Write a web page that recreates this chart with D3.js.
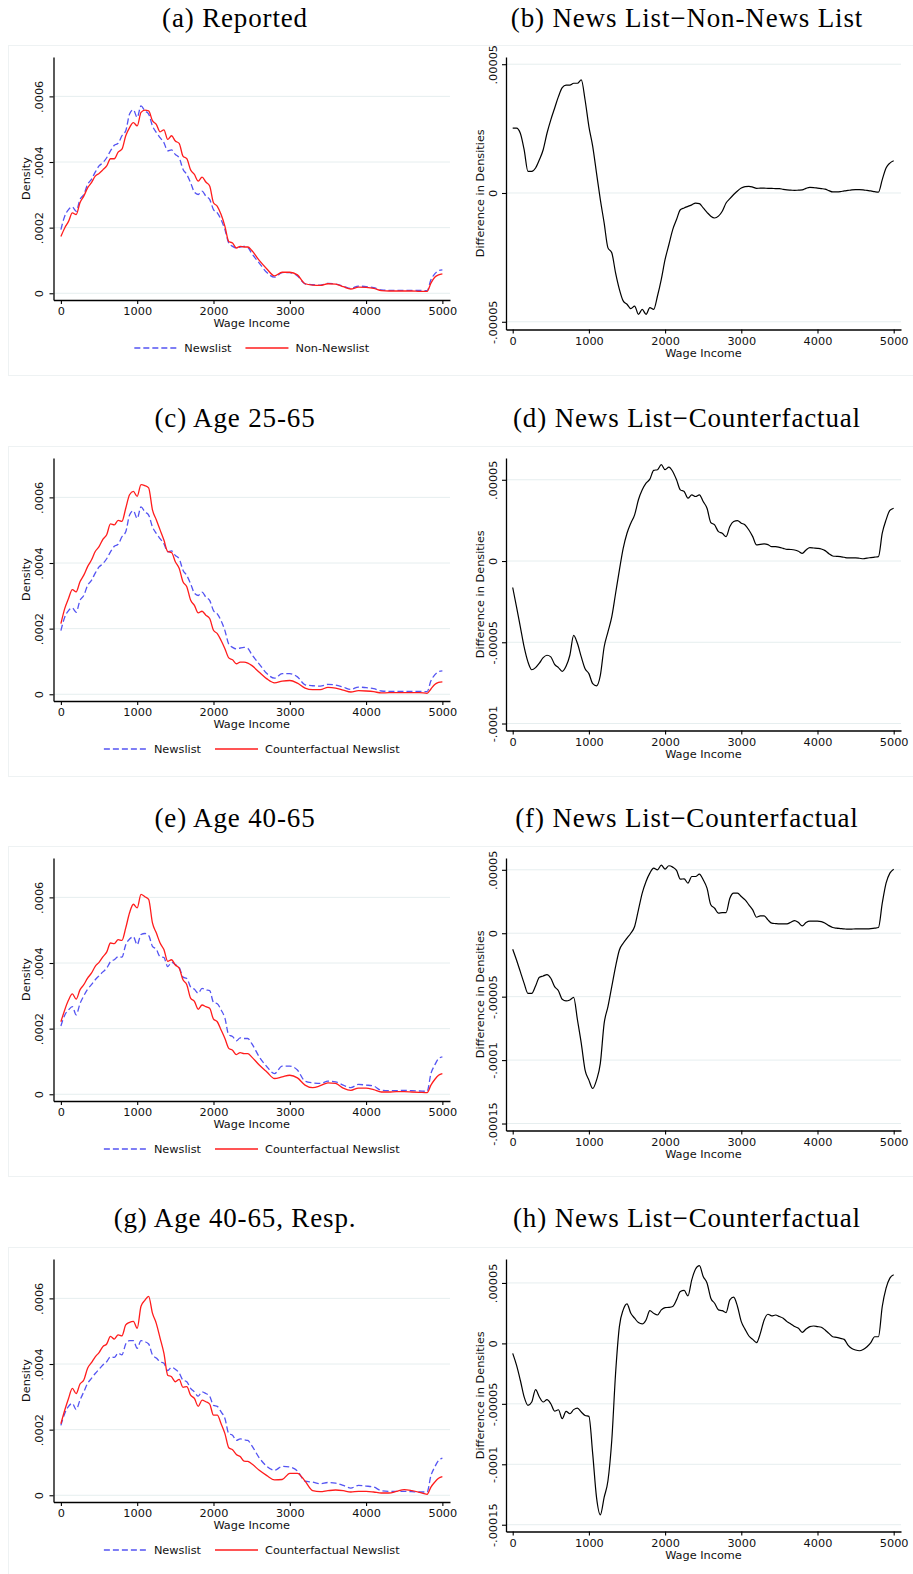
<!DOCTYPE html>
<html>
<head>
<meta charset="utf-8">
<script src="https://cdn.jsdelivr.net/npm/d3@7"></script>
<style>
  body { margin: 0; background: #fff; }
  svg { display: block; }
</style>
</head>
<body>
<svg id="fig" width="913" height="1574"></svg>
<script>
// ---------------------------------------------------------------------------
// Data. Densities and density differences are listed in millionths (x 1e-6).
// ---------------------------------------------------------------------------
const UNIT = 1e-6;

// Wage-income grid for the density panels (left column)
const densityIncome = d3.range(0, 2501, 50).concat(d3.range(2600, 4801, 100), [4850, 4900, 4950, 5000]);
// Wage-income grid for the difference panels (right column)
const diffIncome = d3.range(0, 5001, 50);

// (a) / (c): News List density
const newslistAll = [
  194, 235, 255, 263, 250, 286, 301, 332, 347, 369, 388, 398, 413, 434, 451, 457, 480, 495, 546, 559,
  536, 571, 556, 546, 510, 490, 474, 459, 434, 437, 423, 413, 378, 362, 337, 308, 301, 311, 296, 286,
  255, 245, 224, 194, 153, 143, 138, 141, 143, 140, 122,
  92, 63, 49, 63, 63, 53, 29, 26, 25, 30, 28, 22, 15, 22, 20, 17, 10, 9, 9, 9, 9, 9, 8,
  41, 59, 69, 71
];
// (a): Non-News List density
const nonNewslist = [
  173, 199, 219, 245, 240, 276, 296, 321, 337, 357, 365, 376, 388, 410, 410, 430, 439, 480, 505, 520,
  510, 551, 558, 556, 526, 515, 492, 498, 469, 480, 464, 457, 418, 410, 376, 362, 342, 354, 339, 327,
  276, 265, 240, 204, 158, 153, 138, 143, 141, 141, 131,
  100, 74, 53, 64, 64, 56, 29, 25, 24, 29, 28, 20, 13, 19, 18, 15, 8, 7, 7, 7, 7, 6, 6,
  31, 49, 56, 59
];
// (c): counterfactual News List, age 25-65
const counterfactual2565 = [
  215, 261, 292, 319, 312, 343, 363, 389, 409, 435, 450, 472, 486, 519, 516, 530, 527, 567, 608, 618,
  603, 639, 636, 629, 562, 532, 501, 470, 435, 432, 404, 384, 343, 328, 287, 271, 248, 253, 241, 231,
  195, 185, 164, 139, 111, 105, 93, 98, 98, 95, 88,
  67, 47, 35, 40, 42, 34, 19, 14, 14, 21, 19, 13, 7, 11, 10, 8, 4, 5, 5, 5, 5, 5, 3,
  16, 30, 36, 38
];
// (e): News List, age 40-65
const newslist4065 = [
  208, 241, 257, 267, 242, 276, 300, 320, 334, 349, 361, 373, 384, 404, 410, 419, 418, 456, 473, 480,
  456, 487, 490, 484, 451, 442, 419, 417, 389, 402, 395, 387, 357, 353, 327, 320, 308, 323, 318, 316,
  280, 276, 257, 232, 181, 176, 163, 172, 170, 170, 155,
  114, 84, 63, 86, 86, 74, 40, 35, 33, 40, 38, 28, 20, 30, 28, 25, 12, 11, 11, 12, 11, 10, 9,
  63, 89, 109, 114
];
// (e): counterfactual News List, age 40-65
const counterfactual4065 = [
  221, 257, 287, 306, 290, 318, 334, 354, 369, 390, 402, 419, 433, 461, 459, 471, 469, 507, 553, 579,
  568, 609, 602, 594, 522, 492, 461, 441, 405, 410, 394, 384, 349, 334, 293, 283, 259, 272, 267, 262,
  229, 221, 196, 170, 140, 134, 121, 127, 124, 124, 114,
  89, 68, 48, 53, 58, 50, 28, 20, 26, 35, 33, 19, 12, 19, 19, 14, 7, 7, 8, 8, 7, 6, 5,
  28, 45, 58, 63
];
// (g): News List, age 40-65, respondents
const newslistResp = [
  213, 249, 271, 280, 261, 290, 315, 341, 356, 371, 384, 397, 407, 422, 420, 433, 428, 461, 471, 471,
  448, 471, 468, 461, 428, 418, 407, 402, 380, 390, 384, 373, 351, 346, 326, 315, 302, 315, 310, 302,
  274, 271, 254, 234, 188, 183, 167, 172, 169, 167, 152,
  114, 88, 76, 88, 86, 74, 43, 40, 35, 39, 37, 30, 22, 30, 28, 25, 14, 12, 12, 12, 11, 10, 10,
  60, 86, 106, 113
];
// (g): counterfactual News List, age 40-65, respondents
const counterfactualResp = [
  218, 259, 295, 326, 310, 339, 351, 387, 404, 422, 435, 453, 461, 484, 476, 489, 486, 519, 527, 530,
  509, 576, 594, 606, 555, 524, 479, 433, 366, 361, 346, 353, 329, 331, 305, 295, 271, 290, 285, 278,
  244, 244, 218, 188, 145, 139, 124, 118, 104, 103, 96,
  76, 60, 47, 48, 67, 67, 43, 14, 11, 14, 16, 14, 10, 12, 12, 10, 7, 7, 12, 17, 14, 9, 3,
  25, 40, 52, 57
];

// (b): News List minus Non-News List
const diffReported = [
  25.2, 25.2, 23.2, 16.8, 8.4, 8.4, 9.7, 12.9, 16.8, 23.2, 28.4, 32.9, 37.4, 40.9, 41.9, 41.9, 42.6, 42.6, 43.9, 36.1,
  25.8, 18.1, 7.7, -2.6, -11.6, -21.3, -23.2, -31.0, -37.4, -41.9, -43.2, -44.9, -43.9, -47.1, -45.2, -47.1, -44.5, -45.2, -40.0, -33.5,
  -25.8, -20.0, -14.2, -10.3, -6.5, -5.8, -5.2, -4.6, -3.9, -4.1, -5.8, -7.5, -9.0, -9.7, -9.0, -7.1, -3.9, -2.2, -0.6, 0.8,
  1.9, 2.5, 2.6, 2.3, 1.8, 1.9, 1.9, 1.8, 1.8, 1.7, 1.7, 1.4, 1.2, 1.1, 1.0, 1.1, 1.2, 1.8, 2.2, 2.1,
  1.9, 1.7, 1.5, 0.9, 0.4, 0.4, 0.5, 0.8, 1.0, 1.2, 1.3, 1.3, 1.2, 1.0, 0.8, 0.5, 0.3, 5.2, 9.7, 11.6,
  12.5
];
// (d): News List minus counterfactual, age 25-65
const diff2565 = [
  -16.3, -28.2, -40.5, -52.9, -62.1, -66.9, -65.6, -62.8, -59.5, -58.0, -59.0, -63.6, -65.6, -67.9, -64.8, -58.0, -45.7, -50.8, -59.0, -66.3,
  -69.3, -75.5, -76.8, -70.4, -52.9, -43.6, -34.4, -20.0, -5.6, 7.8, 17.1, 23.3, 28.4, 37.7, 43.8, 47.9, 50.4, 55.8, 56.2, 59.3,
  56.2, 57.8, 55.1, 50.0, 43.8, 42.8, 38.7, 40.7, 39.7, 40.7, 36.6, 32.5, 23.7, 22.2, 18.1, 17.1, 15.0, 21.2, 24.3, 24.9,
  23.3, 22.2, 19.1, 15.0, 9.9, 10.3, 10.5, 10.1, 8.8, 8.8, 8.4, 7.8, 7.2, 7.1, 6.8, 6.0, 4.7, 6.8, 8.2, 8.0,
  7.8, 7.4, 6.4, 4.5, 3.1, 2.9, 2.7, 2.3, 1.9, 1.9, 1.9, 1.7, 1.4, 1.8, 2.1, 2.4, 2.7, 17.1, 25.3, 31.1,
  32.5
];
// (f): News List minus counterfactual, age 40-65
const diff4065 = [
  -12.6, -21.1, -30.3, -39.5, -47.4, -47.4, -41.6, -34.7, -33.7, -32.6, -35.5, -42.1, -45.3, -52.1, -53.4, -52.6, -50.5, -68.4, -86.8, -107.9,
  -115.8, -122.4, -115.8, -102.6, -71.1, -57.9, -42.1, -26.3, -13.2, -7.9, -3.9, 0.0, 5.3, 18.4, 31.6, 40.8, 47.4, 51.3, 50.0, 53.7,
  50.5, 53.2, 52.1, 49.5, 42.6, 42.9, 39.5, 44.7, 44.7, 46.6, 42.1, 35.5, 22.4, 19.7, 15.8, 16.3, 16.3, 27.6, 31.6, 31.6,
  28.9, 26.3, 22.4, 18.4, 12.6, 13.7, 13.7, 10.5, 7.9, 7.6, 7.4, 7.4, 7.4, 8.7, 10.0, 8.4, 5.8, 8.4, 9.5, 9.5,
  9.5, 9.2, 7.9, 6.0, 4.5, 4.0, 3.7, 3.4, 3.2, 3.3, 3.4, 3.4, 3.4, 3.5, 3.7, 4.0, 4.5, 23.7, 39.5, 47.4,
  50.5
];
// (h): News List minus counterfactual, age 40-65, respondents
const diffResp = [
  -8.3, -18.0, -30.5, -44.3, -51.2, -48.5, -38.2, -44.3, -48.5, -46.5, -49.9, -56.0, -54.9, -62.3, -56.2, -58.2, -54.8, -53.5, -56.8, -59.6,
  -60.4, -91.4, -127.4, -141.8, -127.4, -113.6, -80.3, -24.9, 13.9, 27.7, 32.7, 24.9, 20.8, 17.2, 16.1, 19.4, 27.1, 24.9, 23.5, 27.7,
  29.6, 29.8, 30.5, 36.0, 42.9, 43.8, 39.3, 52.6, 61.5, 64.3, 55.4, 49.9, 37.4, 33.2, 27.7, 27.1, 25.5, 36.0, 38.2, 30.5,
  18.0, 11.6, 6.1, 3.3, 0.6, 8.3, 19.4, 24.1, 22.7, 23.5, 22.2, 20.8, 18.0, 16.1, 13.9, 12.5, 9.1, 11.9, 13.9, 14.4,
  13.9, 13.3, 11.1, 8.3, 5.5, 5.0, 4.2, 3.3, -1.4, -4.2, -5.5, -6.1, -5.0, -2.8, 0.6, 5.5, 5.5, 30.5, 45.7, 54.0,
  56.8
];

// Axis ticks and their labels
const incomeTicks = [0, 1000, 2000, 3000, 4000, 5000];
const incomeTickLabels = ["0", "1000", "2000", "3000", "4000", "5000"];
const densityTicks = [0, 0.0002, 0.0004, 0.0006];
const densityTickLabels = ["0", ".0002", ".0004", ".0006"];
const diffTicks3 = [-0.00005, 0, 0.00005];
const diffTickLabels3 = ["-.00005", "0", ".00005"];
const diffTicks4 = [-0.0001, -0.00005, 0, 0.00005];
const diffTickLabels4 = ["-.0001", "-.00005", "0", ".00005"];
const diffTicks5 = [-0.00015, -0.0001, -0.00005, 0, 0.00005];
const diffTickLabels5 = ["-.00015", "-.0001", "-.00005", "0", ".00005"];

// Panel titles and legend labels
const leftTitles = ["(a) Reported", "(c) Age 25-65", "(e) Age 40-65", "(g) Age 40-65, Resp."];
const rightTitles = ["(b) News List\u2212Non-News List", "(d) News List\u2212Counterfactual",
                     "(f) News List\u2212Counterfactual", "(h) News List\u2212Counterfactual"];
const blueLabel = "Newslist";
const redLabels = ["Non-Newslist", "Counterfactual Newslist", "Counterfactual Newslist", "Counterfactual Newslist"];

// ---------------------------------------------------------------------------
// Panel definitions
// ---------------------------------------------------------------------------
const leftPanels = [
  { blue: newslistAll, red: nonNewslist },
  { blue: newslistAll, red: counterfactual2565 },
  { blue: newslist4065, red: counterfactual4065 },
  { blue: newslistResp, red: counterfactualResp }
];
const rightPanels = [
  { values: diffReported, domain: [-0.000053, 0.0000528], ticks: diffTicks3, labels: diffTickLabels3 },
  { values: diff2565, domain: [-0.0001043, 0.0000634], ticks: diffTicks4, labels: diffTickLabels4 },
  { values: diff4065, domain: [-0.0001555, 0.0000593], ticks: diffTicks5, labels: diffTickLabels5 },
  { values: diffResp, domain: [-0.0001556, 0.0000698], ticks: diffTicks5, labels: diffTickLabels5 }
];

// ---------------------------------------------------------------------------
// Layout
// ---------------------------------------------------------------------------
const rowOffset = [0, 401, 801, 1202];
const titleBaseline = [27, 427, 827, 1227];
const SANS = "'DejaVu Sans', sans-serif";
const SANS_SIZE = "11.3px";
const SERIF = "'Liberation Serif', 'Times New Roman', serif";
const BLUE = "#5454f2";
const RED = "#ff1c1c";
const GRID = "#e6eeef";

const svg = d3.select("#fig");
svg.append("rect").attr("width", 913).attr("height", 1574).attr("fill", "#fff");

function styleAxis(g) {
  g.selectAll("path.domain").attr("stroke", "#000").attr("stroke-width", 1.3);
  g.selectAll(".tick line").attr("stroke", "#000").attr("stroke-width", 1.1);
  g.selectAll("text").attr("fill", "#111").style("font-family", SANS).style("font-size", SANS_SIZE);
}

function drawPanel(opt) {
  const { left, right, top, bottom, xDomain, yDomain, ticks, tickLabels,
          yTitle, yTitleOffset, tickLabelOffset } = opt;
  const g = svg.append("g");
  const x = d3.scaleLinear().domain(xDomain).range([left, right]);
  const y = d3.scaleLinear().domain(yDomain).range([bottom, top]);

  // horizontal grid lines
  g.append("g").selectAll("line").data(ticks).join("line")
    .attr("x1", left).attr("x2", right)
    .attr("y1", d => y(d)).attr("y2", d => y(d))
    .attr("stroke", GRID).attr("stroke-width", 1);

  // y axis with rotated labels
  const ya = g.append("g").attr("transform", `translate(${left},0)`)
    .call(d3.axisLeft(y).tickValues(ticks).tickFormat((d, i) => tickLabels[i])
      .tickSize(4).tickSizeOuter(0));
  ya.selectAll(".tick text")
    .attr("transform", "rotate(-90)")
    .attr("x", 0).attr("y", -tickLabelOffset).attr("dy", 0)
    .attr("text-anchor", "middle");
  styleAxis(ya);

  // x axis
  const xa = g.append("g").attr("transform", `translate(0,${bottom})`)
    .call(d3.axisBottom(x).tickValues(incomeTicks).tickFormat((d, i) => incomeTickLabels[i])
      .tickSize(4).tickSizeOuter(0).tickPadding(3));
  styleAxis(xa);

  // axis titles
  g.append("text")
    .attr("transform", `translate(${left - yTitleOffset},${(top + bottom) / 2}) rotate(-90)`)
    .attr("text-anchor", "middle")
    .style("font-family", SANS).style("font-size", SANS_SIZE).attr("fill", "#111")
    .text(yTitle);
  g.append("text")
    .attr("x", (left + right) / 2).attr("y", bottom + 27)
    .attr("text-anchor", "middle")
    .style("font-family", SANS).style("font-size", SANS_SIZE).attr("fill", "#111")
    .text("Wage Income");

  return { g, x, y };
}

function addTitle(text, cx, baseline) {
  svg.append("text")
    .attr("x", cx).attr("y", baseline)
    .attr("text-anchor", "middle")
    .style("font-family", SERIF).style("font-size", "27px")
    .style("letter-spacing", "0.85px")
    .attr("fill", "#000")
    .text(text);
}

// faint graph-region frames, one per row
rowOffset.forEach(off => {
  svg.append("rect")
    .attr("x", 8.5).attr("y", 45.5 + off).attr("width", 910).attr("height", 330)
    .attr("fill", "none").attr("stroke", "#eef2f3").attr("stroke-width", 1);
});

// Left column: densities
leftPanels.forEach((p, i) => {
  const off = rowOffset[i];
  const top = 57 + off, bottom = 300 + off;
  addTitle(leftTitles[i], 235, titleBaseline[i]);
  const { g, x, y } = drawPanel({
    left: 53.5, right: 450, top, bottom,
    xDomain: [-97, 5100], yDomain: [-0.0000205, 0.00072],
    ticks: densityTicks, tickLabels: densityTickLabels,
    yTitle: "Density", yTitleOffset: 24, tickLabelOffset: 10.5
  });
  const line = d3.line()
    .x((d, k) => x(densityIncome[k]))
    .y(d => y(d * UNIT))
    .curve(d3.curveMonotoneX);
  g.append("path").datum(p.blue).attr("d", line)
    .attr("fill", "none").attr("stroke", BLUE).attr("stroke-width", 1.3)
    .attr("stroke-dasharray", "6,3");
  g.append("path").datum(p.red).attr("d", line)
    .attr("fill", "none").attr("stroke", RED).attr("stroke-width", 1.3);

  // legend, centred under the plot
  const ly = bottom + 48;
  const lg = g.append("g");
  const items = [
    { label: blueLabel, color: BLUE, dash: "6,3" },
    { label: redLabels[i], color: RED, dash: null }
  ];
  let cursor = 0;
  items.forEach((it, k) => {
    const ig = lg.append("g").attr("transform", `translate(${cursor},0)`);
    ig.append("line").attr("x1", 0).attr("x2", 43).attr("y1", 0).attr("y2", 0)
      .attr("stroke", it.color).attr("stroke-width", 1.3)
      .attr("stroke-dasharray", it.dash);
    const t = ig.append("text").attr("x", 50).attr("y", 4)
      .style("font-family", SANS).style("font-size", SANS_SIZE).attr("fill", "#111")
      .text(it.label);
    cursor += 50 + t.node().getComputedTextLength() + 14;
  });
  const total = cursor - 14;
  lg.attr("transform", `translate(${(53.5 + 450) / 2 - total / 2},${ly})`);
});

// Right column: differences in densities
rightPanels.forEach((p, i) => {
  const off = rowOffset[i];
  const top = 57 + off, bottom = 329.5 + off;
  addTitle(rightTitles[i], 687, titleBaseline[i]);
  const { g, x, y } = drawPanel({
    left: 506, right: 901, top, bottom,
    xDomain: [-88, 5096], yDomain: p.domain,
    ticks: p.ticks, tickLabels: p.labels,
    yTitle: "Difference in Densities", yTitleOffset: 22.5, tickLabelOffset: 9
  });
  const line = d3.line()
    .x((d, k) => x(diffIncome[k]))
    .y(d => y(d * UNIT))
    .curve(d3.curveMonotoneX);
  g.append("path").datum(p.values).attr("d", line)
    .attr("fill", "none").attr("stroke", "#000").attr("stroke-width", 1.2);
});
</script>
</body>
</html>
